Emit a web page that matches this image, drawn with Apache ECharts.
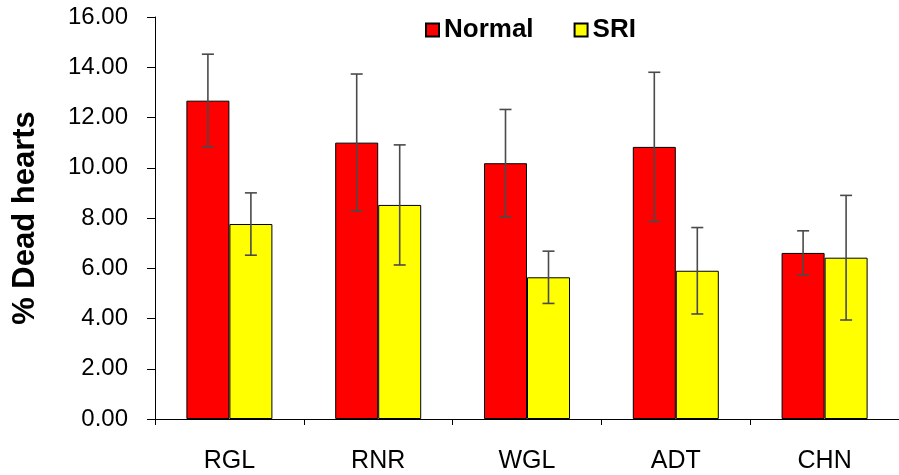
<!DOCTYPE html>
<html>
<head>
<meta charset="utf-8">
<script src="https://cdn.jsdelivr.net/npm/echarts@6/dist/echarts.min.js"></script>
<style>html,body{margin:0;padding:0;background:#fff;}#c{width:899px;height:475px;}</style>
</head>
<body>
<div id="c"></div>
<script>
var categories = ['RGL', 'RNR', 'WGL', 'ADT', 'CHN'];
var normal = [12.67, 11.00, 10.18, 10.83, 6.61];
var sri = [7.76, 8.52, 5.64, 5.90, 6.42];
var normalErr = [1.85, 2.73, 2.14, 2.97, 0.88];
var sriErr = [1.24, 2.39, 1.04, 1.72, 2.48];
var yTicks = [0, 2, 4, 6, 8, 10, 12, 14, 16];

var BAR_W = 43;
var FONT = "'Liberation Sans', Arial, sans-serif";

function errData(vals, errs) {
  return vals.map(function (v, i) { return [i, v - errs[i], v + errs[i]]; });
}
function errSeries(vals, errs, side) {
  return {
    type: 'custom',
    z: 10,
    silent: true,
    data: errData(vals, errs),
    encode: { x: 0, y: [1, 2] },
    renderItem: function (params, api) {
      var lo = api.coord([api.value(0), api.value(1)]);
      var hi = api.coord([api.value(0), api.value(2)]);
      var x = lo[0] + side * BAR_W / 2;
      var cap = 6;
      var st = { stroke: '#4a4a4a', lineWidth: 1.6 };
      return {
        type: 'group',
        children: [
          { type: 'line', shape: { x1: x, y1: lo[1], x2: x, y2: hi[1] }, style: st },
          { type: 'line', shape: { x1: x - cap, y1: hi[1], x2: x + cap, y2: hi[1] }, style: st },
          { type: 'line', shape: { x1: x - cap, y1: lo[1], x2: x + cap, y2: lo[1] }, style: st }
        ]
      };
    }
  };
}

var chart = echarts.init(document.getElementById('c'), null, { renderer: 'canvas' });
chart.setOption({
  animation: false,
  backgroundColor: '#fff',
  textStyle: { fontFamily: FONT },
  legend: {
    data: ['Normal', 'SRI'],
    left: 420,
    top: 12,
    itemWidth: 13,
    itemHeight: 13,
    itemGap: 40,
    icon: 'rect',
    textStyle: { fontSize: 26, fontWeight: 'bold', color: '#000', fontFamily: FONT, lineHeight: 26 }
  },
  grid: { left: 155, right: -6, top: 17, bottom: 56, containLabel: false },
  xAxis: {
    type: 'category',
    data: categories,
    axisLine: { lineStyle: { color: '#000', width: 1 } },
    axisTick: { show: true, alignWithLabel: false, length: 6, lineStyle: { color: '#000' } },
    axisLabel: { fontSize: 25, color: '#000', margin: 30, fontFamily: FONT }
  },
  yAxis: {
    type: 'value',
    min: 0,
    max: 16,
    interval: 2,
    name: '% Dead hearts',
    nameLocation: 'middle',
    nameRotate: 90,
    nameGap: 114,
    nameTextStyle: { fontSize: 31, fontWeight: 'bold', color: '#000', fontFamily: FONT },
    axisLine: { show: true, lineStyle: { color: '#000', width: 1 } },
    axisTick: { show: true, length: 8, lineStyle: { color: '#000' } },
    splitLine: { show: false },
    axisLabel: {
      fontSize: 24, color: '#000', margin: 27, fontFamily: FONT,
      customValues: yTicks,
      formatter: function (v) { return v.toFixed(2); }
    }
  },
  series: [
    {
      name: 'Normal', type: 'bar', data: normal, barWidth: BAR_W, barGap: '0%',
      itemStyle: { color: '#ff0000', borderColor: '#000', borderWidth: 1 }
    },
    {
      name: 'SRI', type: 'bar', data: sri, barWidth: BAR_W, barGap: '0%',
      itemStyle: { color: '#ffff00', borderColor: '#000', borderWidth: 1 }
    },
    errSeries(normal, normalErr, -1),
    errSeries(sri, sriErr, 1)
  ]
});
</script>
</body>
</html>
